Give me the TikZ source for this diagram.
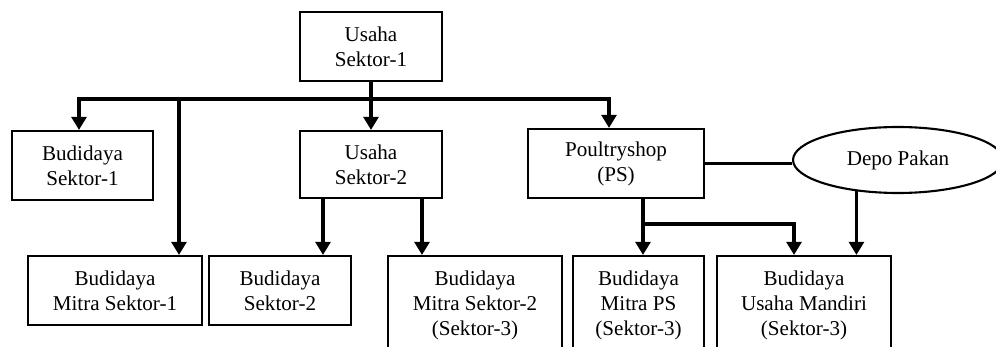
\documentclass[tikz,border=0pt]{standalone}
\usepackage{fontspec}
\setmainfont{Liberation Serif}
\usetikzlibrary{calc,arrows.meta,shapes.geometric}
\tikzset{
  kotak/.style={draw, line width=1.2pt, align=center, inner sep=0pt, font=\fontsize{12}{14.2}\selectfont},
  lonjong/.style={draw, ellipse, line width=1.2pt, inner sep=0pt, font=\fontsize{12}{14.2}\selectfont},
  garis/.style={line width=1.9pt},
  panah/.style={line width=1.9pt, -{Triangle[width=8.5pt, length=7.5pt]}}
}

\begin{document}
\begin{tikzpicture}[x=0.02cm, y=-0.02cm]
			%%%%% START %%%%%
			\useasboundingbox (0, 0) rectangle (996, 347);
			\clip (0, 0) rectangle (996, 347);
			
			\node[kotak, minimum width=2.84cm, minimum height=1.38cm] (us1) at (371, 46.5) {Usaha\\Sektor-1};
			
			\node[kotak, minimum width=2.82cm, minimum height=1.38cm] (bs1) at (82.5, 165.5) {Budidaya\\Sektor-1};
			\node[kotak, minimum width=2.84cm, minimum height=1.34cm] (us2) at (371, 164.5) {Usaha\\Sektor-2};
			\node[kotak, minimum width=3.52cm, minimum height=1.38cm] (ps) at (616, 163.5) {Poultryshop\\(PS)};
			\node[lonjong, minimum width=4.2cm, minimum height=1.32cm] (depo) at (898, 160) {Depo Pakan};
			
			\node[kotak, minimum width=3.48cm, minimum height=1.38cm] (bms1) at (115, 290.5) {Budidaya\\Mitra Sektor-1};
			\node[kotak, minimum width=2.84cm, minimum height=1.38cm] (bs2) at (280, 290.5) {Budidaya\\Sektor-2};
			\node[kotak, minimum width=3.48cm, minimum height=1.96cm] (bms2) at (475, 305) {Budidaya\\Mitra Sektor-2\\(Sektor-3)};
			\node[kotak, minimum width=2.62cm, minimum height=1.96cm] (bmps) at (638.5, 305) {Budidaya\\Mitra PS\\(Sektor-3)};
			\node[kotak, minimum width=3.48cm, minimum height=1.96cm] (bum) at (804, 305) {Budidaya\\Usaha Mandiri\\(Sektor-3)};
			
			% sektor-1
			\coordinate (cab) at (371, 99);
			\coordinate (c1) at (179, 99);
			\draw[garis] (us1.south) -- (cab);
			\draw[panah] (cab) -| ($(bs1.north)+(-3.5, 0)$);
			\draw[panah] (cab) -| ($(ps.north)+(-7, 0)$);
			\draw[panah] (cab) -- (us2.north);
			\draw[panah] (c1) -- (c1 |- bms1.north);
			
			% sektor-2
			\draw[panah] ($(us2.south)+(-48, 0)$) coordinate (a) -- (a |- bs2.north);
			\draw[panah] ($(us2.south)+(51, 0)$) coordinate (b) -- (b |- bms2.north);
			
			% poultryshop
			\coordinate (cps) at ($(ps.south)+(27, 25)$);
			\draw[panah] ($(ps.south)+(27, 0)$) coordinate (c) -- (c |- bmps.north);
			\draw[panah] (cps) -| ($(bum.north)+(-10, 0)$);
			\draw[garis] (ps.east) -- (ps.east -| depo.west);
			\draw[panah] (depo.-143.4) -- (depo.-143.4 |- bum.north);
			%%%%% END %%%%%
		\end{tikzpicture}
\end{document}
